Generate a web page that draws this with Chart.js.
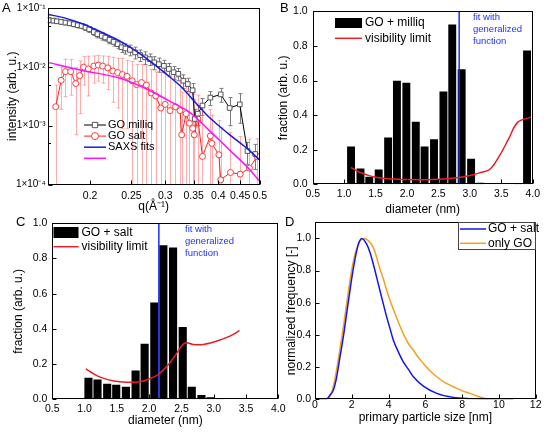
<!DOCTYPE html>
<html>
<head>
<meta charset="utf-8">
<script src="https://cdn.jsdelivr.net/npm/chart.js@4/dist/chart.umd.min.js"></script>
<style>
body{margin:0;width:544px;height:433px;background:#fff;position:relative;overflow:hidden;font-family:"Liberation Sans",Arial,sans-serif}
canvas{position:absolute}
.lab{position:absolute;font-size:13px;color:#000}
.note{position:absolute;font-size:9.5px;color:#2233ee;line-height:12px}
</style>
</head>
<body>
<canvas id="cA" width="272" height="218" style="left:0;top:0"></canvas>
<canvas id="cB" width="272" height="221" style="left:272px;top:0"></canvas>
<canvas id="cC" width="290" height="220" style="left:0;top:212px"></canvas>
<canvas id="cD" width="264" height="217" style="left:280px;top:212px"></canvas>

<div class="lab" style="left:2px;top:0">A</div>
<div class="lab" style="left:280px;top:0">B</div>
<div class="lab" style="left:16px;top:214px">C</div>
<div class="lab" style="left:285px;top:214px">D</div>
<div class="note" style="left:473px;top:11px">fit with<br>generalized<br>function</div>
<div class="note" style="left:185px;top:223px">fit with<br>generalized<br>function</div>

<script>
// ===== Panel A data (SAXS) =====
const qTicks = [0.2, 0.25, 0.3, 0.35, 0.4, 0.45, 0.5];
const qTickLabels = ['0.2', '0.25', '0.3', '0.35', '0.4', '0.45', '0.5'];
const iTicks = [1e-4, 1e-3, 1e-2, 1e-1];
const iTickLabels = ['1×10⁻⁴', '1×10⁻³', '1×10⁻²', '1×10⁻¹'];
const iMinor = [5e-4, 5e-3, 5e-2];

const milliqQ = [0.160,0.164,0.167,0.171,0.175,0.179,0.183,0.187,0.191,0.195,0.199,0.204,0.208,0.213,0.217,0.222,0.227,0.232,0.237,0.242,0.248,0.255,0.262,0.269,0.276,0.283,0.290,0.298,0.306,0.314,0.322,0.331,0.339,0.348,0.352,0.358,0.367,0.383,0.405,0.425,0.449,0.468,0.488];
const milliqI = [0.062,0.061,0.0595,0.058,0.0565,0.055,0.053,0.051,0.0495,0.0465,0.0435,0.039,0.036,0.0335,0.0315,0.0287,0.0265,0.0243,0.0215,0.0205,0.0194,0.0176,0.0158,0.0145,0.0135,0.0119,0.0111,0.0104,0.0092,0.0081,0.0076,0.0058,0.0051,0.0040,0.0013,0.0016,0.0022,0.0030,0.0034,0.0020,0.0023,0.00037,0.00033];
const milliqErr = [0.006,0.005,0.005,0.005,0.005,0.005,0.005,0.005,0.005,0.005,0.005,0.005,0.005,0.005,0.004,0.004,0.004,0.004,0.004,0.004,0.004,0.004,0.0035,0.0035,0.003,0.003,0.003,0.0025,0.0022,0.002,0.0018,0.0015,0.0013,0.0012,0.0006,0.0006,0.0007,0.0008,0.0009,0.001,0.0012,0.00015,0.00015];

const saltQ = [0.166,0.171,0.175,0.180,0.185,0.189,0.193,0.198,0.204,0.209,0.214,0.220,0.226,0.232,0.238,0.244,0.251,0.257,0.264,0.271,0.278,0.285,0.293,0.300,0.308,0.317,0.325,0.328,0.336,0.342,0.348,0.351,0.358,0.367,0.383,0.386,0.401,0.405,0.427,0.450,0.473,0.493];
const saltI = [0.0021,0.0059,0.0083,0.0083,0.0052,0.0071,0.0099,0.0092,0.0103,0.0107,0.0103,0.0096,0.0085,0.0080,0.0074,0.0069,0.0058,0.0050,0.0054,0.0049,0.0036,0.0032,0.0020,0.0023,0.0018,0.0021,0.0018,0.0007,0.0016,0.0011,0.0009,0.0007,0.0013,0.0003,0.00067,0.0005,0.00032,0.00012,0.00016,0.00015,0.00019,0.0003];
const saltErr = [0.0028,0.004,0.0052,0.005,0.0045,0.0055,0.005,0.006,0.005,0.005,0.005,0.0055,0.006,0.006,0.0065,0.006,0.0065,0.006,0.0055,0.0055,0.0055,0.005,0.006,0.0065,0.005,0.0045,0.004,0.003,0.003,0.0025,0.0025,0.002,0.002,0.0016,0.0012,0.001,0.0009,0.0008,0.0006,0.0005,0.0004,0.0003];

const fitMilliqQ = [0.159,0.174,0.193,0.214,0.238,0.266,0.285,0.305,0.328,0.351,0.380,0.421,0.467,0.5];
const fitMilliqI = [0.078,0.068,0.053,0.038,0.026,0.0154,0.0105,0.0071,0.0045,0.0026,0.0014,0.00074,0.00041,0.00026];
const fitSaltQ = [0.159,0.193,0.232,0.266,0.305,0.342,0.380,0.421,0.467,0.5];
const fitSaltI = [0.0119,0.0086,0.0066,0.0045,0.0027,0.0017,0.00084,0.00041,0.0002,0.000113];

// ===== Panels B / C data (size histograms) =====
const diamTicks = [0.5, 1.0, 1.5, 2.0, 2.5, 3.0, 3.5, 4.0];
const fracTicks = [0, 0.2, 0.4, 0.6, 0.8, 1.0];

const diamB = [1.11,1.26,1.40,1.55,1.70,1.84,1.99,2.14,2.28,2.43,2.58,2.72,2.87,3.02,3.16,3.76,3.91];
const fracB = [0.218,0.091,0.044,0.085,0.271,0.598,0.587,0.362,0.218,0.261,0.536,0.924,0.665,0.148,0.009,0.005,0.773];
const visBx = [1.11,1.2,1.3,1.4,1.5,1.65,1.8,2.0,2.2,2.4,2.6,2.75,2.9,3.05,3.17,3.32,3.48,3.62,3.76,3.97];
const visBy = [0.097,0.078,0.062,0.05,0.041,0.034,0.03,0.028,0.027,0.028,0.031,0.036,0.044,0.055,0.068,0.087,0.17,0.265,0.358,0.388];
const fitB = 2.83;

const diamC = [1.06,1.20,1.35,1.49,1.64,1.79,1.93,2.08,2.22,2.37,2.52,2.66,2.81,2.95,3.10];
const fracC = [0.123,0.112,0.089,0.082,0.071,0.164,0.316,0.55,0.875,0.862,0.411,0.071,0.024,0.011,0.006];
const visCx = [1.02,1.14,1.24,1.45,1.65,1.86,2.01,2.14,2.27,2.4,2.52,2.58,2.68,2.84,3.05,3.25,3.4];
const visCy = [0.173,0.145,0.126,0.104,0.097,0.1,0.117,0.141,0.186,0.247,0.312,0.322,0.312,0.312,0.331,0.359,0.39];
const fitC = 2.15;

// ===== Panel D data (primary particle size) =====
const sizeTicks = [0, 2, 4, 6, 8, 10, 12];
const freqTicks = [0, 0.2, 0.4, 0.6, 0.8, 1.0];
const saltX = [0.27,0.6,0.82,1.0,1.18,1.36,1.54,1.72,1.9,2.08,2.27,2.41,2.54,2.81,2.99,3.17,3.35,3.53,3.72,3.9,4.08,4.26,4.53,4.8,5.08,5.35,5.89,6.62,7.52,8.43,9.33,10.78];
const saltY = [0,0,0.027,0.058,0.14,0.264,0.388,0.532,0.676,0.81,0.924,0.981,1.0,0.965,0.913,0.841,0.759,0.676,0.59,0.511,0.439,0.367,0.295,0.233,0.186,0.14,0.082,0.037,0.012,0.004,0,0];
const onlyX = [0.65,0.8,0.95,1.09,1.27,1.45,1.63,1.81,1.99,2.17,2.36,2.5,2.66,2.9,3.17,3.35,3.53,3.72,3.9,4.11,4.35,4.57,4.8,5.08,5.35,5.62,5.89,6.25,6.62,7.07,7.52,7.98,8.43,8.79,9.15,9.43];
const onlyY = [0,0.015,0.06,0.13,0.25,0.38,0.52,0.666,0.8,0.9,0.965,0.99,1.0,0.986,0.944,0.882,0.81,0.748,0.676,0.604,0.532,0.47,0.408,0.346,0.305,0.26,0.223,0.177,0.14,0.103,0.078,0.054,0.037,0.021,0.008,0];

// ===== helpers =====
const FONT = '"Liberation Sans", Arial, sans-serif';
Chart.defaults.font.family = FONT;
Chart.defaults.color = '#000';

function pts(xs, ys) {
    return xs.map((x, i) => ({x: x, y: ys[i]}));
}

// ticks are drawn inward by the frame plugin, so the scale itself draws no tick marks
function axis(type, min, max, ticks, labels, title, size, pad, fontSize) {
    return {
        type: type, min: min, max: max,
        afterBuildTicks: s => { s.ticks = ticks.map(v => ({value: v})); },
        afterFit: s => { if (s.isHorizontal()) s.height = size; else s.width = size; },
        ticks: {
            autoSkip: false, maxRotation: 0, padding: pad,
            font: {size: fontSize || 10.5},
            callback: (v, i) => labels[i]
        },
        grid: {display: false, drawTicks: false},
        border: {display: false},
        title: {display: true, text: title, font: {size: 12}, padding: {top: 4, bottom: 4}}
    };
}

// draws error bars from dataset.errors through the scales
const errorBars = {
    id: 'errorBars',
    beforeDatasetsDraw(chart) {
        const ctx = chart.ctx, a = chart.chartArea;
        const xs = chart.scales.x, ys = chart.scales.y;
        ctx.save();
        ctx.beginPath();
        ctx.rect(a.left, a.top, a.right - a.left, a.bottom - a.top);
        ctx.clip();
        chart.data.datasets.forEach(ds => {
            if (!ds.errors) return;
            ctx.strokeStyle = ds.errorColor;
            ctx.lineWidth = 1;
            ds.data.forEach((p, i) => {
                const e = ds.errors[i];
                const px = Math.round(xs.getPixelForValue(p.x)) + 0.5;
                const lo = p.y - e;
                const top = ys.getPixelForValue(p.y + e);
                const bot = lo > 0 ? ys.getPixelForValue(lo) : a.bottom + 5;
                ctx.beginPath();
                ctx.moveTo(px, top); ctx.lineTo(px, bot);
                ctx.moveTo(px - 2, top); ctx.lineTo(px + 2, top);
                if (lo > 0) { ctx.moveTo(px - 2, bot); ctx.lineTo(px + 2, bot); }
                ctx.stroke();
            });
        });
        ctx.restore();
    }
};

// box around the plot with inward ticks
const frame = {
    id: 'frame',
    afterDraw(chart, args, o) {
        const ctx = chart.ctx, a = chart.chartArea;
        ctx.save();
        ctx.strokeStyle = '#000';
        ctx.lineWidth = 1;
        const l = Math.round(a.left) + 0.5, t = Math.round(a.top) + 0.5;
        const r = Math.round(a.right) - 0.5, b = Math.round(a.bottom) - 0.5;
        ctx.strokeRect(l, t, r - l, b - t);
        ctx.beginPath();
        chart.scales.x.ticks.forEach(tk => {
            const px = Math.round(chart.scales.x.getPixelForValue(tk.value)) + 0.5;
            ctx.moveTo(px, b); ctx.lineTo(px, b - 4);
        });
        chart.scales.y.ticks.forEach(tk => {
            const py = Math.round(chart.scales.y.getPixelForValue(tk.value)) + 0.5;
            ctx.moveTo(l, py); ctx.lineTo(l + 4, py);
        });
        (o.yMinor || []).forEach(v => {
            const py = Math.round(chart.scales.y.getPixelForValue(v)) + 0.5;
            ctx.moveTo(l, py); ctx.lineTo(l + 2.5, py);
        });
        ctx.stroke();
        ctx.restore();
    }
};

// legend drawn inside the plot, labels/colours taken from datasets
const innerLegend = {
    id: 'innerLegend',
    afterDraw(chart, args, o) {
        if (!o.items) return;
        const ctx = chart.ctx;
        ctx.save();
        if (o.frame) {
            ctx.strokeStyle = '#444';
            ctx.lineWidth = 1;
            ctx.strokeRect(o.frame[0] + 0.5, o.frame[1] + 0.5, o.frame[2], o.frame[3]);
        }
        ctx.font = o.size + 'px ' + FONT;
        ctx.textBaseline = 'middle';
        o.items.forEach((idx, i) => {
            const ds = chart.data.datasets[idx];
            const y = o.y + i * o.row;
            if (ds.type === 'bar') {
                ctx.fillStyle = ds.backgroundColor;
                ctx.fillRect(o.x, y - o.boxH / 2, o.len, o.boxH);
            } else {
                ctx.strokeStyle = ds.borderColor;
                ctx.lineWidth = ds.borderWidth;
                ctx.beginPath();
                ctx.moveTo(o.x, y); ctx.lineTo(o.x + o.len, y);
                ctx.stroke();
                if (ds.pointRadius > 0) {
                    ctx.fillStyle = ds.pointBackgroundColor;
                    ctx.strokeStyle = ds.pointBorderColor;
                    ctx.lineWidth = 1;
                    Chart.helpers.drawPoint(ctx, {pointStyle: ds.pointStyle, radius: ds.pointRadius + 0.5, borderWidth: 1, rotation: 0}, o.x + o.len / 2, y);
                }
            }
            ctx.fillStyle = '#000';
            ctx.fillText(ds.label, o.x + o.len + o.gap, y);
        });
        ctx.restore();
    }
};

Chart.register(errorBars, frame, innerLegend);

const baseOpts = {
    responsive: false,
    animation: false,
    events: []
};

// ===== A =====
new Chart(document.getElementById('cA'), {
    type: 'line',
    data: {
        datasets: [
            {label: 'SAXS fits', data: pts(fitMilliqQ, fitMilliqI), borderColor: '#1a1ae6', borderWidth: 1.5, pointRadius: 0, tension: 0.3},
            {label: '', data: pts(fitSaltQ, fitSaltI), borderColor: '#ff10ff', borderWidth: 1.5, pointRadius: 0, tension: 0.3},
            {label: 'GO milliq', data: pts(milliqQ, milliqI), errors: milliqErr, errorColor: '#7a7a7a',
             borderColor: '#000', borderWidth: 1, pointStyle: 'rect', pointRadius: 3.3,
             pointBackgroundColor: '#fff', pointBorderColor: '#555', pointBorderWidth: 1},
            {label: 'GO salt', data: pts(saltQ, saltI), errors: saltErr, errorColor: 'rgba(255,90,90,0.5)',
             borderColor: '#ff2020', borderWidth: 1, pointStyle: 'circle', pointRadius: 3,
             pointBackgroundColor: '#fff', pointBorderColor: '#ff3a3a', pointBorderWidth: 1}
        ]
    },
    options: Object.assign({}, baseOpts, {
        layout: {padding: {left: 1.5, top: 6.5, right: 4.3, bottom: 0}},
        scales: {
            x: axis('logarithmic', 0.159, 0.5, qTicks, qTickLabels, 'q(Å⁻¹)', 33.5, 5, 10.5),
            y: axis('logarithmic', 1e-4, 1e-1, iTicks, iTickLabels, 'intensity (arb. u.)', 46.2, 2, 10)
        },
        plugins: {
            legend: {display: false}, tooltip: {enabled: false},
            frame: {yMinor: iMinor},
            innerLegend: {items: [2, 3, 0, 1], x: 84, y: 125, row: 11.1, len: 22, gap: 2, size: 11}
        }
    })
});

// ===== B and C =====
function histChart(id, diam, frac, visX, visY, fitX, name, pad, ySize, xSize, leg) {
    return new Chart(document.getElementById(id), {
        type: 'bar',
        data: {
            datasets: [
                {type: 'line', label: 'visibility limit', data: pts(visX, visY), borderColor: '#ee1c24', borderWidth: 1.5, pointRadius: 0, tension: 0.35},
                {type: 'line', label: 'fit', data: pts([fitX, fitX], [0, 1]), borderColor: '#1f2ff0', borderWidth: 1.5, pointRadius: 0},
                {type: 'bar', label: name, data: pts(diam, frac), backgroundColor: '#000', barPercentage: 0.9, categoryPercentage: 1.0}
            ]
        },
        options: Object.assign({}, baseOpts, {
            layout: {padding: pad},
            scales: {
                x: Object.assign(axis('linear', 0.5, 4.0, diamTicks, diamTicks.map(v => v.toFixed(1)), 'diameter (nm)', xSize, 4), {offset: false}),
                y: axis('linear', 0, 1.0, fracTicks, fracTicks.map(v => v.toFixed(1)), 'fraction (arb. u.)', ySize, 5)
            },
            plugins: {
                legend: {display: false}, tooltip: {enabled: false},
                innerLegend: leg
            }
        })
    });
}

histChart('cB', diamB, fracB, visBx, visBy, fitB, 'GO + milliq',
    {left: 0, top: 8.3, right: 7.3, bottom: 0}, 40.7, 36.7,
    {items: [2, 0], x: 63, y: 23, row: 15.3, len: 27, boxH: 10, gap: 3, size: 12});
histChart('cC', diamC, fracC, visCx, visCy, fitC, 'GO + salt',
    {left: 7, top: 8, right: 11.7, bottom: 0}, 45.3, 32.7,
    {items: [2, 0], x: 53.5, y: 20.5, row: 14.2, len: 25, boxH: 11, gap: 3, size: 12});

// ===== D =====
new Chart(document.getElementById('cD'), {
    type: 'line',
    data: {
        datasets: [
            {label: 'GO + salt', data: pts(saltX, saltY), borderColor: '#1414f0', borderWidth: 1.5, pointRadius: 0, cubicInterpolationMode: 'monotone'},
            {label: 'only GO', data: pts(onlyX, onlyY), borderColor: '#f0a21e', borderWidth: 1.5, pointRadius: 0, cubicInterpolationMode: 'monotone'}
        ]
    },
    options: Object.assign({}, baseOpts, {
        layout: {padding: {left: 0.5, top: 10.3, right: 8.3, bottom: 0}},
        scales: {
            x: axis('linear', 0, 12, sizeTicks, sizeTicks.map(String), 'primary particle size [nm]', 29.7, 0),
            y: axis('linear', 0, 1.1, freqTicks, freqTicks.map(v => v.toFixed(1)), 'normalized frequency [-]', 34.5, 4)
        },
        plugins: {
            legend: {display: false}, tooltip: {enabled: false},
            innerLegend: {items: [0, 1], x: 180, y: 17, row: 14.3, len: 26, gap: 2, size: 12, frame: [178, 10, 77, 27]}
        }
    })
});
</script>
</body>
</html>
